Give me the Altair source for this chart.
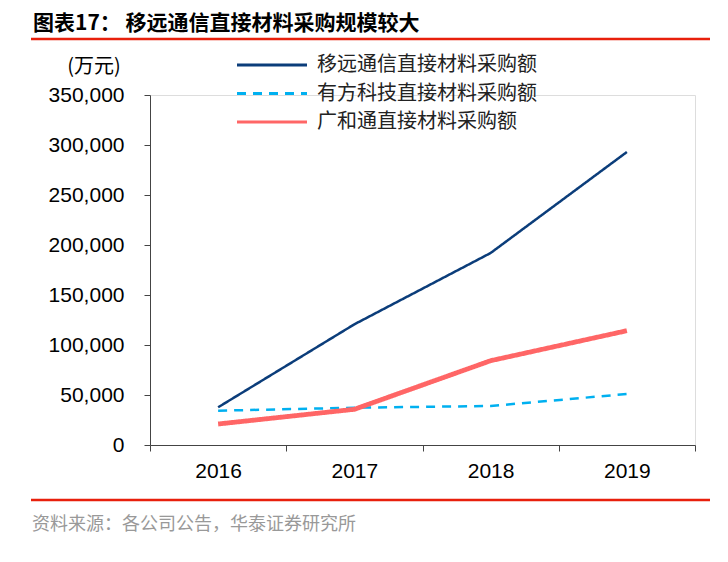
import altair as alt
import pandas as pd

years = ["2016", "2017", "2018", "2019"]
series_names = ["移远通信直接材料采购额", "有方科技直接材料采购额", "广和通直接材料采购额"]
quectel = [37700, 120700, 192000, 293000]
neoway = [34300, 37300, 39000, 51000]
fibocom = [21000, 35700, 84300, 114300]
colors = ["#0b3d7a", "#00b0f0", "#ff6666"]
dashes = [[1, 0], [9, 7], [1, 0]]
widths = [2.5, 2.5, 4.8]
y_ticks = [0, 50000, 100000, 150000, 200000, 250000, 300000, 350000]

rows = []
for name, vals, w in zip(series_names, [quectel, neoway, fibocom], widths):
    for yr, v in zip(years, vals):
        rows.append({"year": yr, "series": name, "value": v, "w": w})
df = pd.DataFrame(rows)

FONT = "Liberation Sans"
CJK = "Noto Sans CJK SC"

lines = alt.Chart(df).mark_line().encode(
    x=alt.X("year:O", scale=alt.Scale(type="band", paddingInner=0, paddingOuter=0),
            axis=alt.Axis(title=None, labelAngle=0, tickBand="extent", labelFont=FONT,
                          labelFontSize=21, labelColor="#000", labelPadding=9,
                          domainColor="#444", tickColor="#444", tickSize=6, grid=False)),
    y=alt.Y("value:Q", scale=alt.Scale(domain=[0, 350000], nice=False),
            axis=alt.Axis(title=None, values=y_ticks, format=",.0f", labelFont=FONT,
                          labelFontSize=21, labelColor="#000", labelPadding=20,
                          domainColor="#444", tickColor="#444", tickSize=6, grid=False)),
    color=alt.Color("series:N", scale=alt.Scale(domain=series_names, range=colors),
                    legend=alt.Legend(title=None, orient="none", legendX=106, legendY=-46,
                                      symbolType="M-2.5,0L2.5,0", symbolSize=784,
                                      symbolStrokeWidth=3.2,
                                      labelFont=CJK, labelFontSize=20, labelColor="#222",
                                      labelOffset=29, rowPadding=2.5, labelLimit=400)),
    strokeDash=alt.StrokeDash("series:N", scale=alt.Scale(domain=series_names, range=dashes)),
    strokeWidth=alt.StrokeWidth("w:Q", scale=None, legend=None),
    detail="series:N",
)

title = alt.Chart(pd.DataFrame({"t": ["图表17：  移远通信直接材料采购规模较大"]})).mark_text(
    align="left", baseline="middle", font=CJK, fontSize=21, fontWeight="bold", color="#000"
).encode(text="t:N", x=alt.value(-117), y=alt.value(-71))

unit = alt.Chart(pd.DataFrame({"t": ["(万元)"]})).mark_text(
    align="center", baseline="middle", font=CJK, fontSize=20, color="#000"
).encode(text="t:N", x=alt.value(-56), y=alt.value(-28))

footer = alt.Chart(pd.DataFrame({"t": ["资料来源：各公司公告，华泰证券研究所"]})).mark_text(
    align="left", baseline="middle", font=CJK, fontSize=18, color="#999999"
).encode(text="t:N", x=alt.value(-118), y=alt.value(430))

rule_top = alt.Chart(pd.DataFrame({"a": [0]})).mark_rule(color="#e8200c", strokeWidth=2.5).encode(
    x=alt.value(-119), x2=alt.value(560), y=alt.value(-56))
rule_bot = alt.Chart(pd.DataFrame({"a": [0]})).mark_rule(color="#e8200c", strokeWidth=2.5).encode(
    x=alt.value(-119), x2=alt.value(560), y=alt.value(405))

chart = alt.layer(lines, title, unit, footer, rule_top, rule_bot).properties(
    width=545, height=350,
    autosize=alt.AutoSizeParams(type="none"),
    padding={"left": 142, "top": 87, "right": 20, "bottom": 100},
).configure_view(stroke=None).configure(background="white")

chart.save("out.html", embed_options={"renderer": "svg", "actions": False})
